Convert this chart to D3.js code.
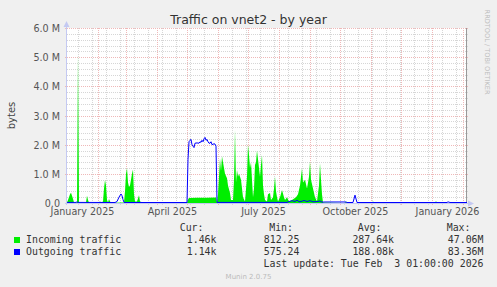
<!DOCTYPE html>
<html>
<head>
<meta charset="utf-8">
<script src="https://cdn.jsdelivr.net/npm/d3@7"></script>
<style>
body { margin: 0; background: #f0f0f0; }
svg { display: block; font-family: "DejaVu Sans", sans-serif; }
.mono { font-family: "DejaVu Sans Mono", monospace; font-size: 9.9px; fill: #333; white-space: pre; }
</style>
</head>
<body>
<div id="chart"></div>
<script>
// days counted from 1 January 2025, values in M bytes
var inDays = [0,1,3,4,6,7,10,11,12,19,20,21,22,32,33,34,36,37,38,39,40,41,42,43,44,57,58,59,60,61,62,63,65,66,67,68,70,72,73,76,77,
  120,121,122,130,140,149,150,151,152,153,154,155,156,157,158,160,161,163,164,166,167,168,169,170,171,172,174,176,178,180,181,182,183,184,
  186,187,188,189,190,191,192,193,194,195,196,197,198,200,201,203,204,206,207,208,209,210,211,213,215,217,218,220,222,225,229,231,233,234,
  235,236,238,240,242,243,244,246,248,250,252,253,254,255,256,278,279,280,305,306,307,368,369,370,400];
var inValues = [0.02,0.1,0.3,0.35,0.15,0.02,0.02,5.1,0.02,0.02,0.25,0.1,0.01,0.01,0.06,0.01,0.05,0.5,0.79,0.6,0.1,0.02,0.14,0.05,0.01,0.02,0.4,1.0,1.19,0.7,0.55,0.6,1.0,1.15,0.3,0.05,0.05,0.27,0.05,0.02,0,
  0,0.12,0.17,0.18,0.18,0.19,0.02,0.3,0.9,1.53,1.1,1.6,1.4,1.2,1.0,0.85,0.6,0.34,0.1,0.1,0.8,2.5,0.7,1.13,0.9,1.0,0.8,0.2,0.05,0.9,2.0,1.65,1.2,1.4,
  0.2,0.5,1.3,1.4,1.8,1.5,1.2,0.9,1.3,1.65,0.6,0.3,0.1,0.05,0.3,0.34,0.1,0.2,0.5,0.9,0.4,0.2,0.05,0.2,0.45,0.2,0.1,0.2,0.05,0.1,0.2,0.3,0.6,0.9,
  1.19,0.7,0.8,0.5,0.9,1.42,0.8,0.5,0.2,0.05,0.6,1.36,0.8,0.3,0.02,0.003,0.05,0.003,0.003,0.06,0.003,0.003,0.07,0.003,0.002];

var outDays = [0,9,10,11,48,50,52,54,55,56,57,60,120,121,122,123,124,125,126,127,128,130,132,133,134,135,136,137,138,139,140,141,142,143,144,145,147,148,149,150,
  220,222,225,228,230,232,235,237,240,243,246,250,253,255,258,279,280,286,288,290,380,381,383,400];
var outValues = [0.02,0.02,0.04,0.02,0.01,0.05,0.2,0.31,0.25,0.12,0.02,0.005,0.005,1.5,2.1,2.15,2.18,2.0,1.95,1.9,2.05,2.06,2.05,2.1,2.08,2.15,2.1,2.2,2.25,2.15,2.18,2.1,2.05,2.05,2.1,2.0,2.03,2.02,1.95,0.02,
  0.02,0.05,0.08,0.05,0.1,0.04,0.06,0.09,0.05,0.08,0.04,0.05,0.07,0.03,0.035,0.035,0.003,0.003,0.27,0.003,0.003,0.04,0.003,0.001];

var yTicks = [0, 1, 2, 3, 4, 5, 6];
var seriesNames = ["Incoming traffic", "Outgoing traffic"];
var seriesColors = ["#00ee00", "#0000ff"];
var curLabels = ["1.46k", "1.14k"];
var minLabels = ["812.25", "575.24"];
var avgLabels = ["287.64k", "188.08k"];
var maxLabels = ["47.06M", "83.36M"];
var lastUpdate = "Last update: Tue Feb  3 01:00:00 2026";

var W = 497, H = 287;
var pLeft = 67, pRight = 467, pTop = 28, pBottom = 203;

var start = new Date(Date.UTC(2025, 0, 1));
var end = d3.utcDay.offset(start, 400);
function day(d) { return d3.utcDay.offset(start, d); }

var x = d3.scaleUtc().domain([start, end]).range([pLeft, pRight]);
var y = d3.scaleLinear().domain([0, 6]).range([pBottom, pTop]);

var svg = d3.select("#chart").append("svg")
    .attr("width", W)
    .attr("height", H);

svg.append("rect").attr("width", W).attr("height", H).attr("fill", "#f0f0f0");
svg.append("rect")
    .attr("x", pLeft).attr("y", pTop)
    .attr("width", pRight - pLeft).attr("height", pBottom - pTop)
    .attr("fill", "#ffffff");

// minor grid
var minorY = d3.range(0, 31).filter(function(i) { return i % 5 !== 0; })
    .map(function(i) { return i / 5; });

svg.selectAll(".hminor").data(minorY).enter().append("line")
    .attr("x1", pLeft).attr("x2", pRight + 2)
    .attr("y1", function(d) { return Math.round(y(d)) + 0.5; })
    .attr("y2", function(d) { return Math.round(y(d)) + 0.5; })
    .attr("stroke", "#d6d6d6").attr("stroke-dasharray", "1,1");

var biweeks = d3.utcSunday.range(new Date(Date.UTC(2025, 0, 12)), end, 2);
svg.selectAll(".vminor").data(biweeks).enter().append("line")
    .attr("x1", function(d) { return Math.round(x(d)) + 0.5; })
    .attr("x2", function(d) { return Math.round(x(d)) + 0.5; })
    .attr("y1", pTop).attr("y2", pBottom + 2)
    .attr("stroke", "#d6d6d6").attr("stroke-dasharray", "1,1");

// major grid
svg.selectAll(".hmajor").data(yTicks).enter().append("line")
    .attr("x1", pLeft - 2).attr("x2", pRight + 2)
    .attr("y1", function(d) { return Math.round(y(d)) + 0.5; })
    .attr("y2", function(d) { return Math.round(y(d)) + 0.5; })
    .attr("stroke", "#efb8b8").attr("stroke-dasharray", "1,1");

var months = d3.utcMonth.range(d3.utcDay.offset(start, 1), end);
svg.selectAll(".vmajor").data(months).enter().append("line")
    .attr("x1", function(d) { return Math.round(x(d)) + 0.5; })
    .attr("x2", function(d) { return Math.round(x(d)) + 0.5; })
    .attr("y1", pTop).attr("y2", pBottom + 2)
    .attr("stroke", "#efb8b8").attr("stroke-dasharray", "1,1");

// incoming area
var inData = inDays.map(function(d, i) { return [day(d), inValues[i]]; });
var area = d3.area()
    .x(function(d) { return x(d[0]); })
    .y0(y(0))
    .y1(function(d) { return y(d[1]); });
svg.append("path").datum(inData)
    .attr("d", area)
    .attr("fill", seriesColors[0]);

// axes
svg.append("line")
    .attr("x1", pLeft - 0.5).attr("x2", pLeft - 0.5)
    .attr("y1", pTop - 2).attr("y2", pBottom + 2)
    .attr("stroke", "#c4c9f2");
svg.append("line")
    .attr("x1", pLeft - 2).attr("x2", pRight + 2)
    .attr("y1", pBottom + 0.5).attr("y2", pBottom + 0.5)
    .attr("stroke", "#c4c9f2");
svg.append("path")
    .attr("d", "M" + (pLeft - 0.5) + "," + (pTop - 7) + "L" + (pLeft - 3.5) + "," + (pTop - 1) + "L" + (pLeft + 2.5) + "," + (pTop - 1) + "Z")
    .attr("fill", "#c4c9f2");
svg.append("path")
    .attr("d", "M" + (pRight + 7) + "," + (pBottom + 0.5) + "L" + (pRight + 1) + "," + (pBottom - 2.5) + "L" + (pRight + 1) + "," + (pBottom + 3.5) + "Z")
    .attr("fill", "#c4c9f2");
svg.append("line")
    .attr("x1", pRight - 0.5).attr("x2", pRight - 0.5)
    .attr("y1", pTop).attr("y2", pBottom)
    .attr("stroke", "#999999");

// outgoing line
var outData = outDays.map(function(d, i) { return [day(d), outValues[i]]; });
var line = d3.line()
    .x(function(d) { return x(d[0]); })
    .y(function(d) { return Math.min(y(d[1]), pBottom - 0.5); });
svg.append("path").datum(outData)
    .attr("d", line)
    .attr("fill", "none")
    .attr("stroke", seriesColors[1])
    .attr("stroke-width", 1);

// tick labels
svg.selectAll(".ylab").data(yTicks).enter().append("text")
    .attr("x", 60)
    .attr("y", function(d) { return Math.round(y(d)) + 3.5; })
    .attr("text-anchor", "end")
    .attr("font-size", "9.6px")
    .attr("fill", "#555")
    .text(function(d) { return d === 0 ? "0.0" : d.toFixed(1) + " M"; });

var quarters = d3.utcMonth.every(3).range(start, end);
svg.selectAll(".xlab").data(quarters).enter().append("text")
    .attr("x", function(d) { return x(d3.utcHour.offset(d, 372)); })
    .attr("y", 214.5)
    .attr("text-anchor", "middle")
    .attr("font-size", "9.6px")
    .attr("fill", "#555")
    .text(d3.utcFormat("%B %Y"));

svg.append("text")
    .attr("x", 248.5).attr("y", 23.5)
    .attr("text-anchor", "middle")
    .attr("font-size", "12.5px")
    .attr("fill", "#333")
    .text("Traffic on vnet2 - by year");

svg.append("text")
    .attr("transform", "translate(14.5," + ((pTop + pBottom) / 2) + ")rotate(-90)")
    .attr("text-anchor", "middle")
    .attr("font-size", "10px")
    .attr("fill", "#444")
    .text("bytes");

svg.append("text")
    .attr("transform", "translate(485,52)rotate(90)")
    .attr("text-anchor", "middle")
    .attr("font-size", "6.6px")
    .attr("fill", "#bdbdbd")
    .text("RRDTOOL / TOBI OETIKER");

// legend
var headers = [["Cur:", 203.5], ["Min:", 293], ["Avg:", 381.5], ["Max:", 470.5]];
headers.forEach(function(h) {
    svg.append("text").attr("class", "mono")
        .attr("x", h[1]).attr("y", 230.5)
        .attr("text-anchor", "end")
        .text(h[0]);
});

var cols = [[curLabels, 216.5], [minLabels, 299.5], [avgLabels, 394], [maxLabels, 483.5]];
seriesNames.forEach(function(name, i) {
    var by = 242.5 + i * 12;
    svg.append("rect")
        .attr("x", 14).attr("y", by - 5.5)
        .attr("width", 6).attr("height", 6)
        .attr("fill", seriesColors[i]);
    svg.append("text").attr("class", "mono")
        .attr("x", 26).attr("y", by)
        .text(name);
    cols.forEach(function(c) {
        svg.append("text").attr("class", "mono")
            .attr("x", c[1]).attr("y", by)
            .attr("text-anchor", "end")
            .text(c[0][i]);
    });
});

svg.append("text").attr("class", "mono")
    .attr("x", 483.5).attr("y", 266.5)
    .attr("text-anchor", "end")
    .text(lastUpdate);

svg.append("text")
    .attr("x", 248.5).attr("y", 278.5)
    .attr("text-anchor", "middle")
    .attr("font-size", "7px")
    .attr("fill", "#bbb")
    .text("Munin 2.0.75");
</script>
</body>
</html>
